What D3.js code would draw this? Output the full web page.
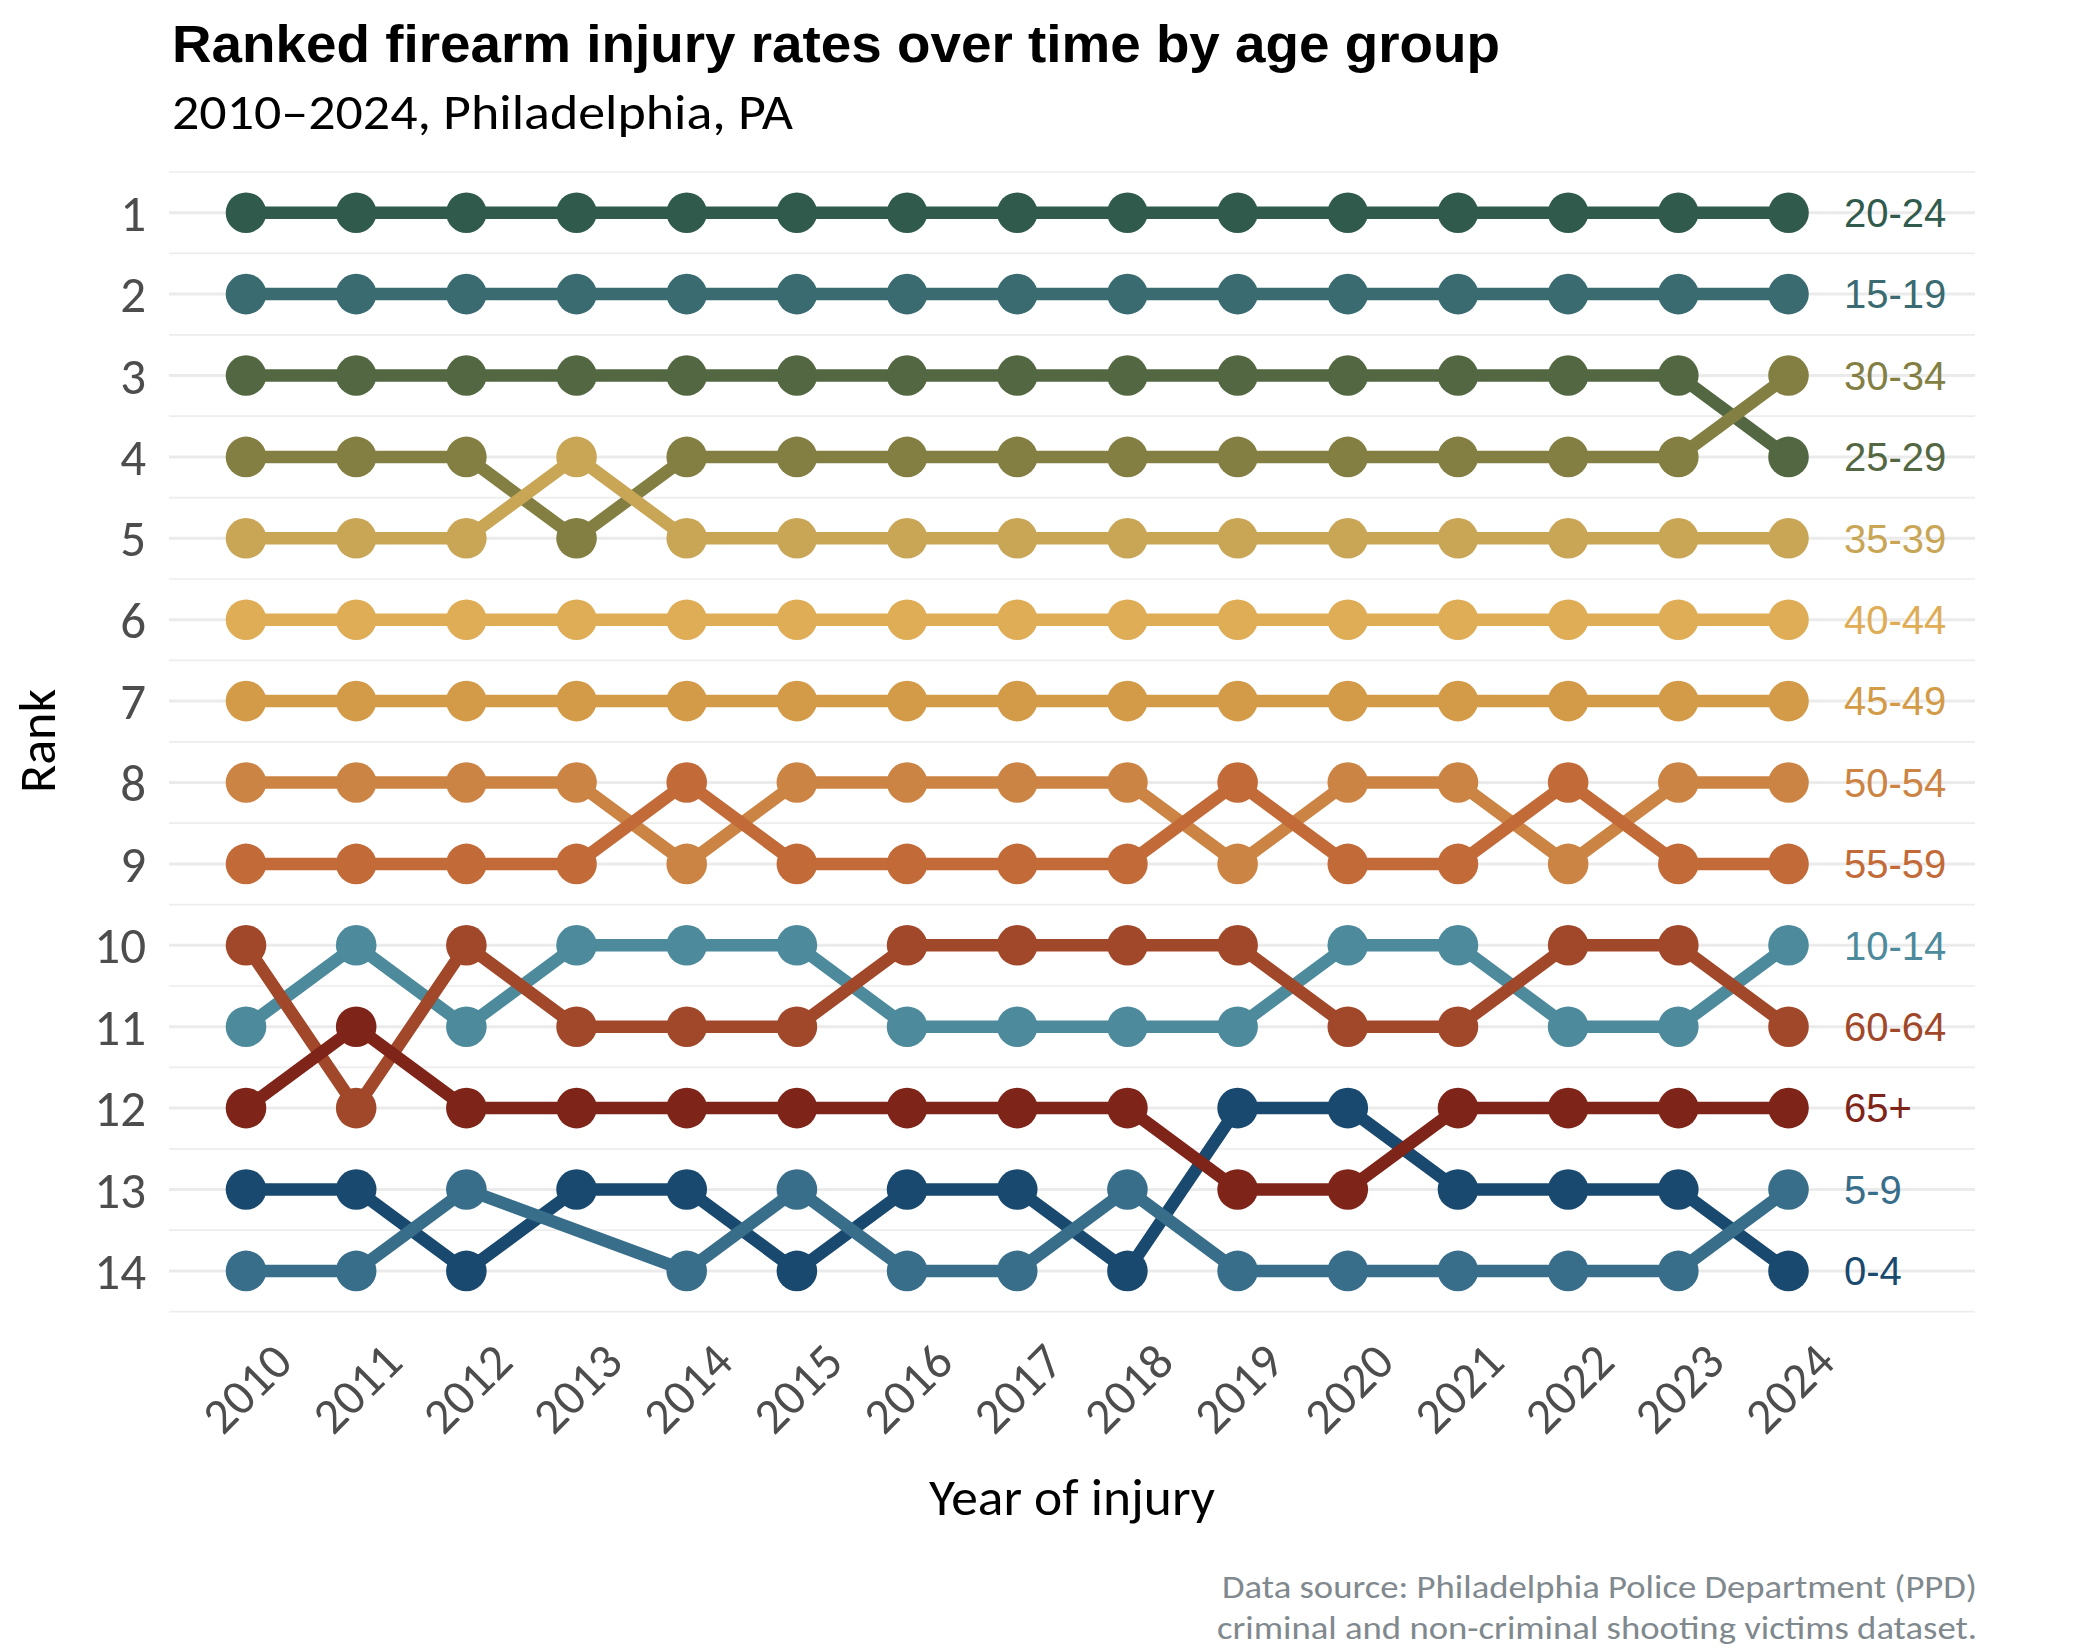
<!DOCTYPE html>
<html>
<head>
<meta charset="utf-8">
<script src="https://cdn.jsdelivr.net/npm/d3@7"></script>
<style>
  html, body { margin: 0; padding: 0; background: #ffffff; }
  svg { display: block; }
</style>
</head>
<body>
<svg id="chart" width="2100" height="1650"></svg>
<script>
// ---------------- DATA ----------------
const years = [2010, 2011, 2012, 2013, 2014, 2015, 2016, 2017, 2018, 2019, 2020, 2021, 2022, 2023, 2024];
const ageGroups = ["0-4", "5-9", "10-14", "15-19", "20-24", "25-29", "30-34", "35-39", "40-44", "45-49", "50-54", "55-59", "60-64", "65+"];
const rankTicks = [1, 2, 3, 4, 5, 6, 7, 8, 9, 10, 11, 12, 13, 14];

// Rank per year (null = no value that year)
const rank_0_4   = [13, 13, 14, 13, 13, 14, 13, 13, 14, 12, 12, 13, 13, 13, 14];
const rank_5_9   = [14, 14, 13, null, 14, 13, 14, 14, 13, 14, 14, 14, 14, 14, 13];
const rank_10_14 = [11, 10, 11, 10, 10, 10, 11, 11, 11, 11, 10, 10, 11, 11, 10];
const rank_15_19 = [2, 2, 2, 2, 2, 2, 2, 2, 2, 2, 2, 2, 2, 2, 2];
const rank_20_24 = [1, 1, 1, 1, 1, 1, 1, 1, 1, 1, 1, 1, 1, 1, 1];
const rank_25_29 = [3, 3, 3, 3, 3, 3, 3, 3, 3, 3, 3, 3, 3, 3, 4];
const rank_30_34 = [4, 4, 4, 5, 4, 4, 4, 4, 4, 4, 4, 4, 4, 4, 3];
const rank_35_39 = [5, 5, 5, 4, 5, 5, 5, 5, 5, 5, 5, 5, 5, 5, 5];
const rank_40_44 = [6, 6, 6, 6, 6, 6, 6, 6, 6, 6, 6, 6, 6, 6, 6];
const rank_45_49 = [7, 7, 7, 7, 7, 7, 7, 7, 7, 7, 7, 7, 7, 7, 7];
const rank_50_54 = [8, 8, 8, 8, 9, 8, 8, 8, 8, 9, 8, 8, 9, 8, 8];
const rank_55_59 = [9, 9, 9, 9, 8, 9, 9, 9, 9, 8, 9, 9, 8, 9, 9];
const rank_60_64 = [10, 12, 10, 11, 11, 11, 10, 10, 10, 10, 11, 11, 10, 10, 11];
const rank_65p   = [12, 11, 12, 12, 12, 12, 12, 12, 12, 13, 13, 12, 12, 12, 12];

const groupColors = ["#19496E", "#386E8A", "#4D8A9B", "#3A6B70", "#305B4C", "#536842", "#837F43",
                     "#C9A656", "#DEAD56", "#D39B48", "#CC8444", "#C26B39", "#A1482A", "#7E2418"];

const titleText = "Ranked firearm injury rates over time by age group";
const subtitleText = "2010\u20132024, Philadelphia, PA";
const xTitle = "Year of injury";
const yTitle = "Rank";
const captionLines = ["Data source: Philadelphia Police Department (PPD)",
                      "criminal and non-criminal shooting victims dataset."];

const rankSeries = [rank_0_4, rank_5_9, rank_10_14, rank_15_19, rank_20_24, rank_25_29, rank_30_34,
                    rank_35_39, rank_40_44, rank_45_49, rank_50_54, rank_55_59, rank_60_64, rank_65p];

const series = ageGroups.map((g, i) => ({
  group: g,
  color: groupColors[i],
  values: years.map((y, j) => ({ year: y, rank: rankSeries[i][j] }))
}));

// ---------------- LAYOUT ----------------
const svg = d3.select("#chart");
const panel = { left: 169, right: 1975, top: 172, bottom: 1312 };

const x = d3.scaleLinear().domain([2010, 2024]).range([246, 1788.5]);
const y = d3.scaleLinear().domain([1, 14]).range([212.7, 1270.9]);

const calibri = "Carlito, Lato, 'Open Sans', sans-serif";
const arial = "'Liberation Sans', Arial, sans-serif";

// Gridlines (minor at half ranks, major at ranks)
const minorVals = d3.range(0.5, 14.51, 1);
svg.append("g").selectAll("line").data(minorVals).join("line")
  .attr("x1", panel.left).attr("x2", panel.right)
  .attr("y1", d => y(d)).attr("y2", d => y(d))
  .attr("stroke", "#EDEDED").attr("stroke-width", 1.7);

svg.append("g").selectAll("line").data(rankTicks).join("line")
  .attr("x1", panel.left).attr("x2", panel.right)
  .attr("y1", d => y(d)).attr("y2", d => y(d))
  .attr("stroke", "#EBEBEB").attr("stroke-width", 3);

// Y axis tick labels
const yAxis = d3.axisLeft(y).tickValues(rankTicks).tickSize(0).tickPadding(0).tickFormat(d3.format("d"));
const yAxisG = svg.append("g").attr("transform", `translate(146,0)`).call(yAxis);
yAxisG.select(".domain").remove();
yAxisG.selectAll("text")
  .attr("font-family", calibri).attr("font-size", 51).attr("fill", "#4D4D4D")
  .attr("dy", null).attr("dominant-baseline", "central");

// X axis tick labels
const xAxis = d3.axisBottom(x).tickValues(years).tickSize(0).tickFormat(d3.format("d"));
const xAxisG = svg.append("g").attr("transform", `translate(0,1388)`).call(xAxis);
xAxisG.select(".domain").remove();
xAxisG.selectAll("text")
  .attr("font-family", calibri).attr("font-size", 50).attr("fill", "#4D4D4D")
  .attr("y", 0).attr("dy", null)
  .attr("dominant-baseline", "central")
  .attr("text-anchor", "middle")
  .attr("transform", "rotate(-45)");

// Lines
const line = d3.line()
  .x(d => x(d.year)).y(d => y(d.rank));

svg.append("g").selectAll("path").data(series).join("path")
  .attr("d", d => line(d.values.filter(v => v.rank !== null)))
  .attr("fill", "none")
  .attr("stroke", d => d.color)
  .attr("stroke-width", 12.5)
  .attr("stroke-linejoin", "round");

// Points
svg.append("g").selectAll("g").data(series).join("g")
  .attr("fill", d => d.color)
  .selectAll("circle").data(d => d.values.filter(v => v.rank !== null)).join("circle")
  .attr("cx", d => x(d.year)).attr("cy", d => y(d.rank)).attr("r", 20.3);

// End labels
svg.append("g").selectAll("text").data(series).join("text")
  .attr("x", 1844)
  .attr("y", d => y(d.values[d.values.length - 1].rank) + 14.3)
  .attr("font-family", arial).attr("font-size", 40)
  .attr("fill", d => d.color)
  .text(d => d.group);

// Title & subtitle
svg.append("text").attr("x", 172).attr("y", 62)
  .attr("font-family", arial).attr("font-weight", "bold").attr("font-size", 51)
  .attr("fill", "#000").attr("textLength", 1328).attr("lengthAdjust", "spacingAndGlyphs")
  .text(titleText);

svg.append("text").attr("x", 172).attr("y", 129)
  .attr("font-family", calibri).attr("font-size", 50)
  .attr("fill", "#000").attr("textLength", 621).attr("lengthAdjust", "spacingAndGlyphs")
  .text(subtitleText);

// Axis titles
svg.append("text")
  .attr("transform", "translate(55,741) rotate(-90)")
  .attr("text-anchor", "middle")
  .attr("font-family", calibri).attr("font-size", 52).attr("fill", "#000")
  .text(yTitle);

svg.append("text").attr("x", 1072).attr("y", 1515)
  .attr("text-anchor", "middle")
  .attr("font-family", calibri).attr("font-size", 52).attr("fill", "#000")
  .attr("textLength", 286).attr("lengthAdjust", "spacingAndGlyphs")
  .text(xTitle);

// Caption
const capWidths = [755, 760];
const capY = [1598, 1639];
svg.append("g").selectAll("text").data(captionLines).join("text")
  .attr("x", 1977).attr("y", (d, i) => capY[i])
  .attr("text-anchor", "end")
  .attr("font-family", calibri).attr("font-size", 33).attr("fill", "#7F898E")
  .attr("textLength", (d, i) => capWidths[i]).attr("lengthAdjust", "spacingAndGlyphs")
  .text(d => d);
</script>
</body>
</html>
